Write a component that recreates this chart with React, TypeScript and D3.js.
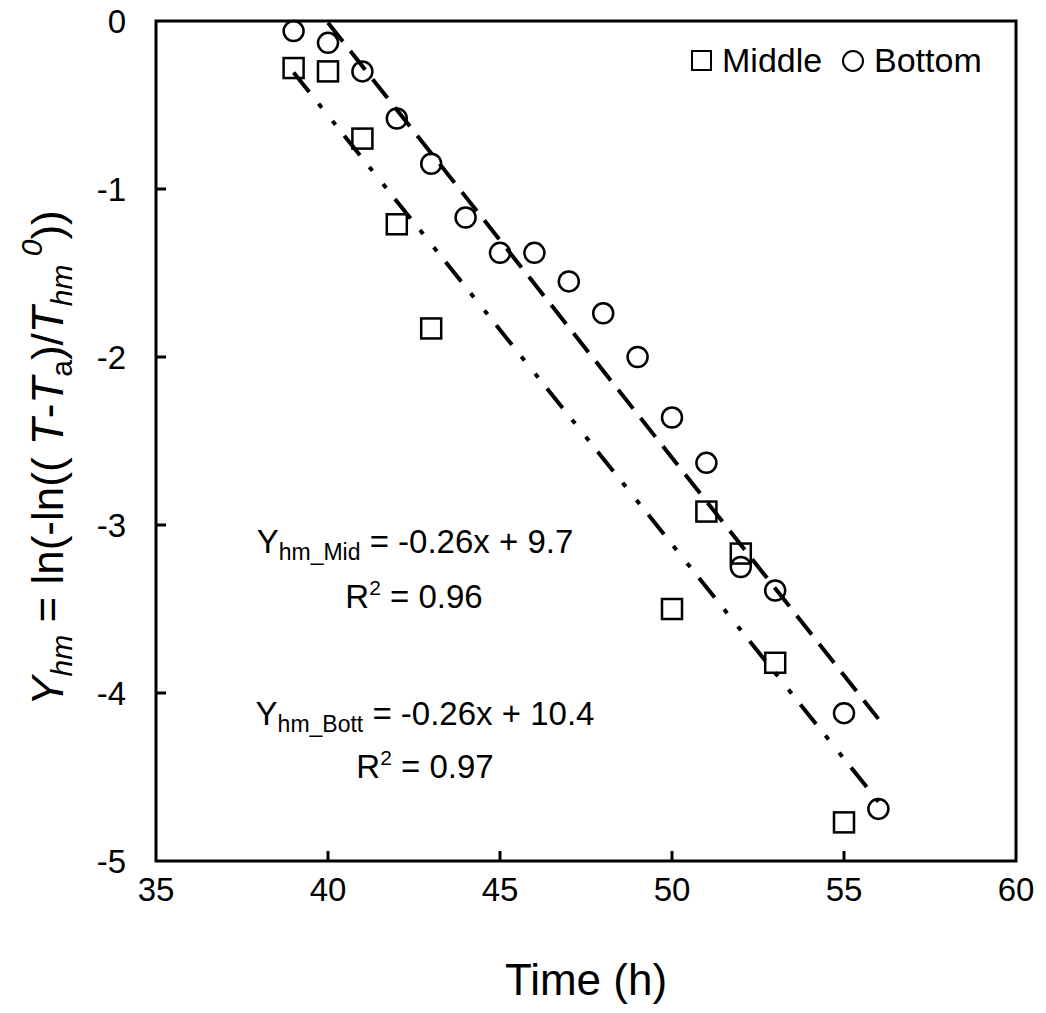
import React from "react";
import * as d3 from "d3";

const midX = [39, 40, 41, 42, 43, 50, 51, 52, 53, 55];
const midY = [-0.28, -0.3, -0.7, -1.21, -1.83, -3.5, -2.92, -3.17, -3.82, -4.77];
const botX = [39, 40, 41, 42, 43, 44, 45, 46, 47, 48, 49, 50, 51, 52, 53, 55, 56];
const botY = [-0.06, -0.13, -0.3, -0.58, -0.85, -1.17, -1.38, -1.38, -1.55, -1.74, -2.0, -2.36, -2.63, -3.25, -3.39, -4.12, -4.69];
// fitted lines as drawn: [slope, intercept, xStart, xEnd]
const midFit = [-0.2553, 9.65, 39, 56];
const botFit = [-0.259, 10.35, 40, 56];
const xTicks = [35, 40, 45, 50, 55, 60];
const yTicks = [0, -1, -2, -3, -4, -5];

const FONT = "'Liberation Sans', Arial, Helvetica, sans-serif";

export default function App() {
  const x = d3.scaleLinear().domain([35, 60]).range([156, 1016]);
  const y = d3.scaleLinear().domain([-5, 0]).range([861, 21]);
  const fitPath = (f: number[]) =>
    d3.line<number>().x((v) => x(v)).y((v) => y(f[0] * v + f[1]))([f[2], f[3]]) as string;
  const L = x.range()[0], R = x.range()[1], T = y.range()[1], B = y.range()[0];
  const s = 20;
  return (
    <svg width={1046} height={1013} style={{ position: "absolute", left: 0, top: 0, background: "#fff" }} fontFamily={FONT}>
      <rect x={0} y={0} width={1046} height={1013} fill="#fff" />
      {/* fit lines */}
      <path d={fitPath(botFit)} fill="none" stroke="#000" strokeWidth={4} strokeDasharray="24 12" />
      <path d={fitPath(midFit)} fill="none" stroke="#000" strokeWidth={4} strokeDasharray="25 15 5 17 5 14" />
      {/* markers */}
      {midX.map((v, i) => (
        <rect key={"m" + i} x={x(v) - s / 2} y={y(midY[i]) - s / 2} width={s} height={s} fill="none" stroke="#000" strokeWidth={2.5} />
      ))}
      {botX.map((v, i) => (
        <circle key={"b" + i} cx={x(v)} cy={y(botY[i])} r={10} fill="none" stroke="#000" strokeWidth={2.5} />
      ))}
      {/* frame */}
      <rect x={L} y={T} width={R - L} height={B - T} fill="none" stroke="#000" strokeWidth={3} />
      {/* ticks */}
      {xTicks.slice(1, -1).map((t) => (
        <line key={"xt" + t} x1={x(t)} x2={x(t)} y1={B} y2={B - 10} stroke="#000" strokeWidth={3} />
      ))}
      {yTicks.slice(1, -1).map((t) => (
        <line key={"yt" + t} x1={L} x2={L + 10} y1={y(t)} y2={y(t)} stroke="#000" strokeWidth={3} />
      ))}
      {xTicks.map((t) => (
        <text key={"xl" + t} x={x(t)} y={901} fontSize={33} textAnchor="middle">{t}</text>
      ))}
      {yTicks.map((t) => (
        <text key={"yl" + t} x={126} y={y(t) + 12} fontSize={33} textAnchor="end">{t}</text>
      ))}
      {/* axis titles */}
      <text x={586} y={995} fontSize={44} textAnchor="middle">Time (h)</text>
      <text transform="translate(63,458) rotate(-90)" fontSize={44} textAnchor="middle">
        <tspan fontStyle="italic">Y</tspan>
        <tspan fontSize={30} fontStyle="italic" dy={9}>hm</tspan>
        <tspan dy={-9}> = ln(-ln(( </tspan>
        <tspan fontStyle="italic">T</tspan>
        <tspan>-</tspan>
        <tspan fontStyle="italic">T</tspan>
        <tspan fontSize={30} dy={9}>a</tspan>
        <tspan dy={-9}>)/</tspan>
        <tspan fontStyle="italic">T</tspan>
        <tspan fontSize={30} fontStyle="italic" dy={9}>hm</tspan>
        <tspan fontSize={30} fontStyle="italic" dy={-30}> 0</tspan>
        <tspan dy={21}>))</tspan>
      </text>
      {/* legend */}
      <rect x={692} y={51} width={19} height={19} fill="none" stroke="#000" strokeWidth={2} />
      <text x={722} y={72} fontSize={34}>Middle</text>
      <circle cx={853} cy={61} r={10} fill="none" stroke="#000" strokeWidth={2} />
      <text x={874} y={72} fontSize={34}>Bottom</text>
      {/* equations */}
      <text x={415} y={553} fontSize={33} textAnchor="middle">
        <tspan>Y</tspan>
        <tspan fontSize={23} dy={7}>hm_Mid</tspan>
        <tspan dy={-7}> = -0.26x + 9.7</tspan>
      </text>
      <text x={414} y={608} fontSize={33} textAnchor="middle">
        <tspan>R</tspan>
        <tspan fontSize={21} dy={-13}>2</tspan>
        <tspan dy={13}> = 0.96</tspan>
      </text>
      <text x={425} y={725} fontSize={33} textAnchor="middle">
        <tspan>Y</tspan>
        <tspan fontSize={23} dy={7}>hm_Bott</tspan>
        <tspan dy={-7}> = -0.26x + 10.4</tspan>
      </text>
      <text x={425} y={778} fontSize={33} textAnchor="middle">
        <tspan>R</tspan>
        <tspan fontSize={21} dy={-13}>2</tspan>
        <tspan dy={13}> = 0.97</tspan>
      </text>
    </svg>
  );
}
